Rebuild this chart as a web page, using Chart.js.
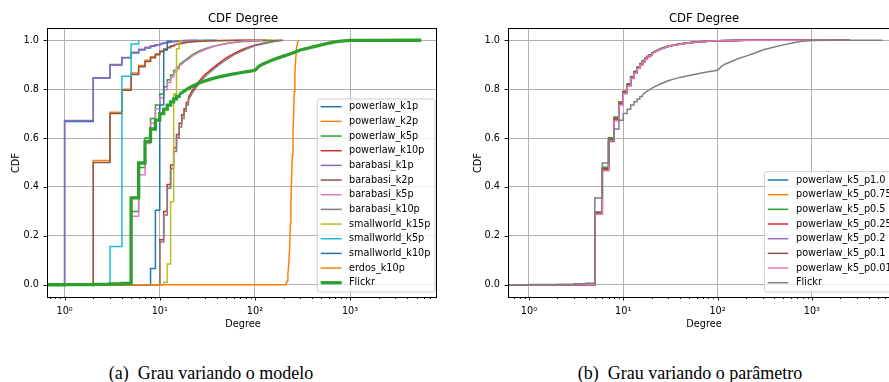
<!DOCTYPE html>
<html><head><meta charset="utf-8">
<script src="https://cdn.jsdelivr.net/npm/chart.js@4.4.1/dist/chart.umd.min.js"></script>
<style>
html,body{margin:0;padding:0;background:#fff;width:889px;height:382px;overflow:hidden;position:relative}
canvas{position:absolute;top:0}
.t{position:absolute;font-family:"DejaVu Sans";color:#000;white-space:nowrap;transform:translate(-50%,-50%)}
.r{transform:translate(-50%,-50%) rotate(-90deg)}
.cap{position:absolute;font-family:"Liberation Serif";font-size:18px;color:#000;white-space:nowrap;transform:translate(-50%,-50%)}
</style></head><body>
<canvas id="c1" width="445" height="345" style="left:0px"></canvas>
<canvas id="c2" width="445" height="345" style="left:461px"></canvas>
<div class="t" style="left:243px;top:18px;font-size:11.7px">CDF Degree</div>
<div class="t" style="left:704px;top:18px;font-size:11.7px">CDF Degree</div>
<div class="t r" style="left:15px;top:163px;font-size:9.7px">CDF</div>
<div class="t r" style="left:477px;top:163px;font-size:9.7px">CDF</div>
<div class="t" style="left:243px;top:323px;font-size:9.7px">Degree</div>
<div class="t" style="left:704px;top:323px;font-size:9.7px">Degree</div>
<div class="cap" style="left:211px;top:373px">(a)&nbsp; Grau variando o modelo</div>
<div class="cap" style="left:690px;top:373px">(b)&nbsp; Grau variando o parâmetro</div>
<script>
// ---------- data (degree values and CDF values) ----------
const yTickValues = [0, 0.2, 0.4, 0.6, 0.8, 1.0];
const xTickValues = [0.7,0.8,0.9,1,2,3,4,5,6,7,8,9,10,20,30,40,50,60,70,80,90,100,200,300,400,500,600,700,800,900,1000,2000,3000,4000,5000,6000,7000,8000];

const xPowerlawK1p = [0.5,1,2,3,4,5,6,7,8,9,10,12,14,17,20,25,30,40];
const yPowerlawK1p = [0,0.668,0.846,0.899,0.928,0.948,0.96,0.968,0.975,0.98,0.984,0.99,0.994,0.997,0.998,0.999,0.9995,1];

const xPowerlawK2p = [0.5,2,3,4,5,6,7,8,9,10,11,12,13,14,16,18,20,25,30,40,50,70,100,150];
const yPowerlawK2p = [0,0.508,0.705,0.8,0.866,0.897,0.918,0.932,0.945,0.957,0.965,0.972,0.977,0.981,0.987,0.991,0.994,0.997,0.998,0.999,0.9993,0.9996,0.9998,1];

const xPowerlawK5p = [0.5,5,6,7,8,9,10,11,12,13,14,15,16,18,20,22,25,30,35,40,50,60,70,100,140,190];
const yPowerlawK5p = [0,0.3,0.48,0.6,0.68,0.735,0.78,0.81,0.838,0.858,0.876,0.89,0.9,0.915,0.928,0.94,0.953,0.965,0.973,0.979,0.987,0.991,0.994,0.997,0.999,1];

const xPowerlawK10p = [0.5,10,11,12,13,14,15,16,17,18,19,20,22,25,28,30,35,40,45,50,60,70,80,100,130,160,190];
const yPowerlawK10p = [0,0.184,0.3,0.41,0.49,0.56,0.615,0.66,0.695,0.72,0.745,0.765,0.795,0.825,0.848,0.86,0.882,0.9,0.915,0.928,0.945,0.958,0.967,0.98,0.99,0.996,1];

const xBarabasiK1p = [0.5,1,2,3,4,5,6,7,8,9,10,12,14,16,20,25];
const yBarabasiK1p = [0,0.672,0.847,0.901,0.929,0.951,0.963,0.971,0.977,0.982,0.986,0.992,0.996,0.998,0.9995,1];

const xBarabasiK2p = [0.5,2,3,4,5,6,7,8,9,10,11,12,13,14,16,18,20,25,30,40,50,70,100,130];
const yBarabasiK2p = [0,0.5,0.7,0.795,0.86,0.892,0.913,0.928,0.941,0.953,0.962,0.969,0.975,0.979,0.985,0.989,0.992,0.995,0.997,0.998,0.999,0.9995,0.9998,1];

const xBarabasiK5p = [0.5,5,6,7,8,9,10,11,12,13,14,15,16,18,20,22,25,30,35,40,50,60,70,90,120];
const yBarabasiK5p = [0,0.28,0.45,0.578,0.662,0.72,0.765,0.798,0.827,0.85,0.868,0.882,0.893,0.91,0.923,0.935,0.948,0.962,0.971,0.978,0.986,0.991,0.995,0.998,1];

const xBarabasiK10p = [0.5,10,11,12,13,14,15,16,17,18,19,20,22,25,28,30,35,40,45,50,60,70,80,100,130,160,200];
const yBarabasiK10p = [0,0.175,0.285,0.395,0.475,0.545,0.6,0.645,0.68,0.71,0.735,0.755,0.785,0.815,0.84,0.852,0.875,0.893,0.908,0.92,0.94,0.953,0.963,0.977,0.988,0.995,1];

const xSmallworldK15p = [0.5,11,12,13,14,15,16,17];
const ySmallworldK15p = [0,0.01,0.085,0.34,0.78,0.965,0.995,1];

const xSmallworldK5p = [0.5,3,4,5,6];
const ySmallworldK5p = [0,0.157,0.853,0.985,1];

const xSmallworldK10p = [0.5,8,9,10,11,12,13];
const ySmallworldK10p = [0,0.067,0.305,0.735,0.96,0.996,1];

const xErdosK10p = [0.5,212,218,222,227,232,236,239,243,247,251,255,259,263,268,274,280,288];
const yErdosK10p = [0,0,0.015,0.041,0.09,0.15,0.25,0.34,0.44,0.53,0.62,0.7,0.79,0.86,0.92,0.97,0.99,1];

const xFlickr = [0.5,1,2,3,4,5,6,7,8,9,10,11,12,13,14,15,16,18,20,22,25,30,35,40,50,60,70,80,90,100,105,110,120,140,170,200,250,300,400,500,600,700,800,1000,1500,5600];
const yFlickr = [0,0.001,0.002,0.004,0.006,0.355,0.498,0.586,0.637,0.673,0.7,0.718,0.735,0.748,0.76,0.77,0.778,0.792,0.803,0.812,0.822,0.834,0.842,0.848,0.856,0.862,0.867,0.871,0.874,0.877,0.885,0.893,0.902,0.913,0.926,0.935,0.948,0.96,0.972,0.981,0.988,0.993,0.996,0.999,0.9997,1];

const xK5 = [0.5,5,6,7,8,9,10,11,12,13,14,15,16,17,18,19,20,22,25,30,35,40,50,65,80,100,150,200,300,500,1000,2500];
const yK5p100 = [0,0.293,0.477,0.597,0.682,0.744,0.789,0.819,0.849,0.87,0.889,0.903,0.915,0.925,0.933,0.94,0.946,0.955,0.965,0.975,0.981,0.985,0.99,0.994,0.996,0.998,0.999,0.9995,0.9997,0.9999,0.99995,1];
const yK5p075 = [0,0.294,0.478,0.598,0.683,0.745,0.79,0.82,0.85,0.871,0.889,0.903,0.915,0.925,0.933,0.94,0.946,0.955,0.965,0.975,0.981,0.985,0.99,0.994,0.996,0.998,0.999,0.9995,0.9997,0.9999,0.99995,1];
const yK5p050 = [0,0.298,0.481,0.601,0.686,0.748,0.792,0.822,0.852,0.873,0.891,0.905,0.917,0.926,0.934,0.941,0.947,0.956,0.966,0.976,0.982,0.986,0.99,0.994,0.996,0.998,0.999,0.9995,0.9997,0.9999,0.99995,1];
const yK5p025 = [0,0.295,0.474,0.594,0.679,0.741,0.786,0.817,0.847,0.868,0.887,0.901,0.913,0.923,0.932,0.939,0.945,0.954,0.964,0.974,0.98,0.985,0.99,0.994,0.996,0.998,0.999,0.9995,0.9997,0.9999,0.99995,1];
const yK5p020 = [0,0.291,0.468,0.59,0.673,0.737,0.783,0.814,0.845,0.866,0.885,0.9,0.912,0.922,0.931,0.938,0.944,0.953,0.964,0.974,0.98,0.984,0.989,0.994,0.996,0.998,0.999,0.9995,0.9997,0.9999,0.99995,1];
const yK5p010 = [0,0.292,0.472,0.593,0.678,0.74,0.785,0.816,0.846,0.867,0.886,0.9,0.913,0.923,0.931,0.939,0.945,0.954,0.964,0.974,0.98,0.984,0.99,0.994,0.996,0.998,0.999,0.9995,0.9997,0.9999,0.99995,1];
const yK5p001 = [0,0.288,0.466,0.588,0.671,0.735,0.781,0.813,0.843,0.865,0.884,0.899,0.911,0.921,0.93,0.937,0.943,0.953,0.963,0.974,0.98,0.984,0.989,0.993,0.996,0.998,0.999,0.9995,0.9997,0.9999,0.99995,1];

const seriesA = [
  ['powerlaw_k1p', xPowerlawK1p, yPowerlawK1p, '#1f77b4', 1.5],
  ['powerlaw_k2p', xPowerlawK2p, yPowerlawK2p, '#ff7f0e', 1.5],
  ['powerlaw_k5p', xPowerlawK5p, yPowerlawK5p, '#2ca02c', 1.5],
  ['powerlaw_k10p', xPowerlawK10p, yPowerlawK10p, '#d62728', 1.5],
  ['barabasi_k1p', xBarabasiK1p, yBarabasiK1p, '#9467bd', 1.5],
  ['barabasi_k2p', xBarabasiK2p, yBarabasiK2p, '#8c564b', 1.5],
  ['barabasi_k5p', xBarabasiK5p, yBarabasiK5p, '#e377c2', 1.5],
  ['barabasi_k10p', xBarabasiK10p, yBarabasiK10p, '#7f7f7f', 1.5],
  ['smallworld_k15p', xSmallworldK15p, ySmallworldK15p, '#bcbd22', 1.5],
  ['smallworld_k5p', xSmallworldK5p, ySmallworldK5p, '#17becf', 1.5],
  ['smallworld_k10p', xSmallworldK10p, ySmallworldK10p, '#1f77b4', 1.5],
  ['erdos_k10p', xErdosK10p, yErdosK10p, '#ff7f0e', 1.5],
  ['Flickr', xFlickr, yFlickr, '#2ca02c', 3.3]
];
const seriesB = [
  ['powerlaw_k5_p1.0', xK5, yK5p100, '#1f77b4', 1.5],
  ['powerlaw_k5_p0.75', xK5, yK5p075, '#ff7f0e', 1.5],
  ['powerlaw_k5_p0.5', xK5, yK5p050, '#2ca02c', 1.5],
  ['powerlaw_k5_p0.25', xK5, yK5p025, '#d62728', 1.5],
  ['powerlaw_k5_p0.2', xK5, yK5p020, '#9467bd', 1.5],
  ['powerlaw_k5_p0.1', xK5, yK5p010, '#8c564b', 1.5],
  ['powerlaw_k5_p0.01', xK5, yK5p001, '#e377c2', 1.5],
  ['Flickr', xFlickr, yFlickr, '#7f7f7f', 1.5]
];

// ---------- rendering ----------
const FONT = '"DejaVu Sans"';
const isPow10 = v => Math.abs(Math.log10(v) - Math.round(Math.log10(v))) < 1e-9;
const SUP = {'0':'\u2070','1':'\u00b9','2':'\u00b2','3':'\u00b3','4':'\u2074','-':'\u207b'};
const supStr = n => String(n).split('').map(c => SUP[c]).join('');

const axesPlugin = {
  id: 'axesDeco',
  afterDraw(chart, args, opts) {
    const {ctx, chartArea: a} = chart;
    const xs = chart.scales.x, ys = chart.scales.y;
    ctx.save();
    ctx.strokeStyle = '#000';
    ctx.lineWidth = 0.9;
    xs.ticks.forEach(t => {
      const px = Math.round(xs.getPixelForValue(t.value)) + 0.5;
      if (px < a.left || px > a.right) return;
      const len = isPow10(t.value) ? 3.5 : 2;
      ctx.beginPath(); ctx.moveTo(px, a.bottom); ctx.lineTo(px, a.bottom + len); ctx.stroke();
    });
    ys.ticks.forEach(t => {
      const py = Math.round(ys.getPixelForValue(t.value)) + 0.5;
      ctx.beginPath(); ctx.moveTo(a.left, py); ctx.lineTo(a.left - 3.5, py); ctx.stroke();
    });
    ctx.lineWidth = 1;
    ctx.strokeRect(Math.round(a.left) + 0.5, Math.round(a.top) + 0.5, Math.round(a.right - a.left), Math.round(a.bottom - a.top));
    // legend
    const L = opts.legend;
    const r = 2.5;
    ctx.beginPath();
    ctx.moveTo(L.x + r, L.y);
    ctx.lineTo(L.x + L.w - r, L.y); ctx.arcTo(L.x + L.w, L.y, L.x + L.w, L.y + r, r);
    ctx.lineTo(L.x + L.w, L.y + L.h - r); ctx.arcTo(L.x + L.w, L.y + L.h, L.x + L.w - r, L.y + L.h, r);
    ctx.lineTo(L.x + r, L.y + L.h); ctx.arcTo(L.x, L.y + L.h, L.x, L.y + L.h - r, r);
    ctx.lineTo(L.x, L.y + r); ctx.arcTo(L.x, L.y, L.x + r, L.y, r);
    ctx.closePath();
    ctx.fillStyle = 'rgba(255,255,255,0.8)'; ctx.fill();
    ctx.strokeStyle = '#cccccc'; ctx.lineWidth = 1; ctx.stroke();
    ctx.font = '9.7px ' + FONT;
    ctx.textBaseline = 'middle';
    ctx.textAlign = 'left';
    opts.items.forEach((s, i) => {
      const yy = L.row0 + i * L.dy;
      ctx.strokeStyle = s[3]; ctx.lineWidth = s[4];
      ctx.beginPath(); ctx.moveTo(L.lx0, yy); ctx.lineTo(L.lx1, yy); ctx.stroke();
      ctx.fillStyle = '#000';
      ctx.fillText(s[0], L.tx, yy);
    });
    ctx.restore();
  }
};

// Each CDF is drawn as a staircase while the degrees are consecutive integers,
// and as a plain line through the sparser tail readings.
function makeChart(id, series, xMin, xMax, legend) {
  const datasets = [];
  series.forEach((s, i) => {
    const xs = s[1], ys = s[2];
    let split = xs.length;
    for (let k = 2; k < xs.length; k++) { if (xs[k] - xs[k - 1] > 1.001) { split = k; break; } }
    const pts = xs.map((x, k) => ({x: x, y: ys[k]}));
    const base = {label: s[0], borderColor: s[3], borderWidth: s[4], pointRadius: 0, fill: false, tension: 0, order: -i};
    datasets.push(Object.assign({}, base, {data: pts.slice(0, split), stepped: 'before'}));
    if (split < xs.length) datasets.push(Object.assign({}, base, {data: pts.slice(split - 1), stepped: false}));
  });
  return new Chart(document.getElementById(id), {
    type: 'line',
    data: {datasets},
    plugins: [axesPlugin],
    options: {
      responsive: false,
      devicePixelRatio: 1,
      animation: false,
      events: [],
      layout: {padding: {left: 0, top: 28, right: 6, bottom: 0}},
      plugins: {
        legend: {display: false},
        tooltip: {enabled: false},
        title: {display: false},
        axesDeco: {legend, items: series}
      },
      scales: {
        x: {
          type: 'logarithmic',
          min: xMin, max: xMax,
          afterBuildTicks: sc => { sc.ticks = xTickValues.map(v => ({value: v, major: isPow10(v)})); },
          afterFit: sc => { sc.height = 345 - 28 - 269; },
          grid: {
            drawTicks: false,
            lineWidth: 1,
            color: c => (c.tick && isPow10(c.tick.value)) ? '#b0b0b0' : 'rgba(0,0,0,0)'
          },
          border: {display: false},
          ticks: {
            autoSkip: false, maxRotation: 0, minRotation: 0, padding: 9,
            color: '#000', font: {family: FONT, size: 9.7},
            callback: v => isPow10(v) ? '10' + supStr(Math.round(Math.log10(v))) : ''
          }
        },
        y: {
          type: 'linear',
          min: -0.05, max: 1.05,
          afterBuildTicks: sc => { sc.ticks = yTickValues.map(v => ({value: v})); },
          afterFit: sc => { sc.width = 47; },
          grid: {drawTicks: false, lineWidth: 1, color: '#b0b0b0'},
          border: {display: false},
          ticks: {
            padding: 8, color: '#000', font: {family: FONT, size: 9.7},
            callback: v => Number(v).toFixed(1)
          }
        }
      }
    }
  });
}

makeChart('c1', seriesA, 0.653, 8090,
  {x: 317.3, y: 99, w: 117.7, h: 193, row0: 106.7, dy: 14.67, lx0: 320.7, lx1: 341.7, tx: 349});
makeChart('c2', seriesB, 0.642, 7960,
  {x: 303.3, y: 171.7, w: 132, h: 120.3, row0: 180, dy: 14.67, lx0: 306.7, lx1: 327.3, tx: 335});
</script>
</body></html>
